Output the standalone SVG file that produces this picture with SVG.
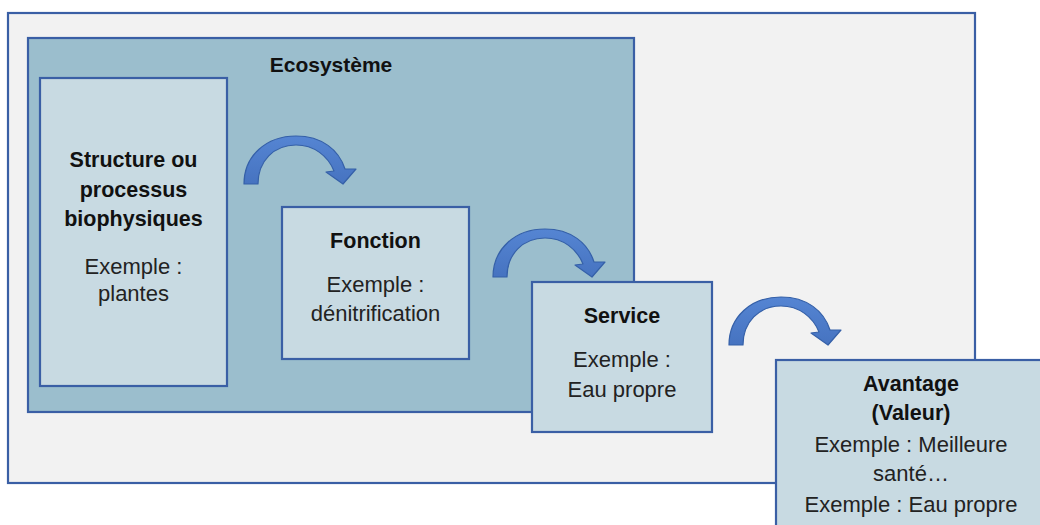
<svg xmlns="http://www.w3.org/2000/svg" width="1040" height="525" viewBox="0 0 1040 525">
  <style>
    .frame { stroke: #3a5fa5; stroke-width: 2.2; }
    .box { fill: #c8dae2; stroke: #3a5fa5; stroke-width: 2.2; }
    .t { font-family: "Liberation Sans", Arial, sans-serif; font-size: 22px; text-anchor: middle; fill: #222; }
    .b { font-weight: bold; font-size: 21.5px; fill: #111; }
    .arrow { fill: url(#ag); stroke: #3560a8; stroke-width: 1.2; stroke-linejoin: round; }
  </style>
  <defs>
    <linearGradient id="ag" x1="0" y1="0" x2="0" y2="1">
      <stop offset="0" stop-color="#5585d3"/>
      <stop offset="1" stop-color="#4673c0"/>
    </linearGradient>
    <path id="curve" d="M0,48 C0,20 22,0 52,0 C78,0 95,14 101,33 L112,33 L99,48 L82,36 L90,35 C84,20 70,9 52,9 C30,9 14,25 14,48 Z"/>
  </defs>
  <rect x="0" y="0" width="1040" height="525" fill="#ffffff"/>
  <g id="outer">
    <rect class="frame" x="8" y="13" width="967" height="470" fill="#f2f2f2"/>
  </g>
  <g id="ecosysteme">
    <rect class="frame" x="28" y="38" width="606" height="374" fill="#9bbecd"/>
    <text class="t b" x="331" y="72" style="font-size:21px">Ecosystème</text>
  </g>
  <g id="structure">
    <rect class="box" x="40" y="78" width="187" height="308"/>
    <text class="t b" x="133.5" y="167">Structure ou</text>
    <text class="t b" x="133.5" y="197">processus</text>
    <text class="t b" x="133.5" y="226">biophysiques</text>
    <text class="t" x="133.5" y="274">Exemple :</text>
    <text class="t" x="133.5" y="301">plantes</text>
  </g>
  <g id="fonction">
    <rect class="box" x="282" y="207" width="187" height="152"/>
    <text class="t b" x="375.5" y="248">Fonction</text>
    <text class="t" x="375.5" y="292">Exemple :</text>
    <text class="t" x="375.5" y="321">dénitrification</text>
  </g>
  <g id="service">
    <rect class="box" x="532" y="282" width="180" height="150"/>
    <text class="t b" x="622" y="323">Service</text>
    <text class="t" x="622" y="367">Exemple :</text>
    <text class="t" x="622" y="397">Eau propre</text>
  </g>
  <g id="avantage">
    <rect class="box" x="776" y="360" width="270" height="180"/>
    <text class="t b" x="911" y="391">Avantage</text>
    <text class="t b" x="911" y="420">(Valeur)</text>
    <text class="t" x="911" y="452">Exemple : Meilleure</text>
    <text class="t" x="911" y="481">santé…</text>
    <text class="t" x="911" y="512">Exemple : Eau propre</text>
  </g>
  <g id="connectors">
    <use href="#curve" class="arrow" transform="translate(244,136)"/>
    <use href="#curve" class="arrow" transform="translate(493,229)"/>
    <use href="#curve" class="arrow" transform="translate(729,297)"/>
  </g>
</svg>
